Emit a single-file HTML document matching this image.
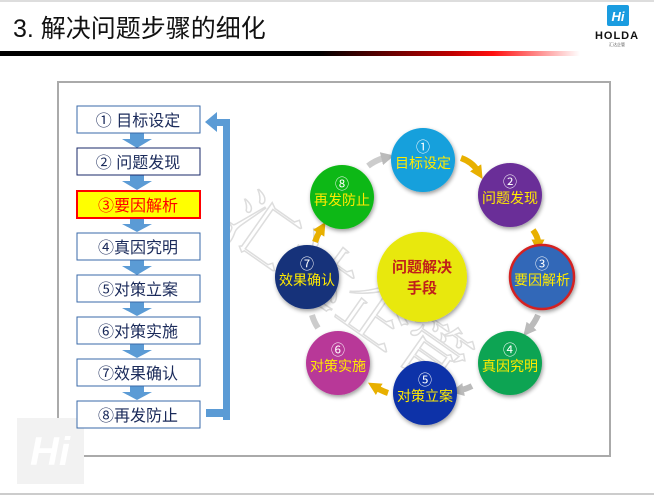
<!DOCTYPE html>
<html><head><meta charset="utf-8"><style>
html,body{margin:0;padding:0;background:#fff;}
body{width:654px;height:495px;position:relative;overflow:hidden;font-family:"Liberation Sans","Noto Sans CJK SC",sans-serif;}
</style></head><body>
<svg width="654" height="495" viewBox="0 0 654 495" xmlns="http://www.w3.org/2000/svg" style="position:absolute;left:0;top:0">
<defs>
<linearGradient id="bar" x1="0" x2="1" y1="0" y2="0">
<stop offset="0" stop-color="#000"/><stop offset="0.55" stop-color="#000"/>
<stop offset="0.78" stop-color="#c00000"/><stop offset="0.85" stop-color="#ff1010"/>
<stop offset="1" stop-color="#ffffff"/>
</linearGradient>
<filter id="sh" x="-20%" y="-20%" width="140%" height="140%"><feGaussianBlur in="SourceAlpha" stdDeviation="2"/><feOffset dx="1" dy="2"/><feComponentTransfer><feFuncA type="linear" slope="0.4"/></feComponentTransfer><feMerge><feMergeNode/><feMergeNode in="SourceGraphic"/></feMerge></filter>
<marker id="ay" viewBox="0 0 10 10" refX="2" refY="5" markerWidth="2.2" markerHeight="2.2" orient="auto"><path d="M0,0 L10,5 L0,10z" fill="#e8b000"/></marker>
<marker id="ag" viewBox="0 0 10 10" refX="2" refY="5" markerWidth="2.2" markerHeight="2.2" orient="auto"><path d="M0,0 L10,5 L0,10z" fill="#bbb"/></marker>
</defs>
<rect x="0" y="0" width="654" height="2" fill="#ddd"/>
<text x="13" y="37" font-size="25" fill="#111">3. 解决问题步骤的细化</text>
<rect x="0" y="51" width="580" height="5" fill="url(#bar)"/>
<!-- logo -->
<rect x="607" y="5" width="22" height="21" rx="2" fill="#1a9ce0"/>
<text x="618" y="21" font-size="13" fill="#fff" font-style="italic" font-weight="bold" text-anchor="middle">Hi</text>
<text x="617" y="39" font-size="11" font-weight="bold" fill="#111" text-anchor="middle" letter-spacing="1">HOLDA</text>
<text x="617" y="46" font-size="4" fill="#555" text-anchor="middle">汇达企管</text>
<!-- frame -->
<rect x="58" y="82" width="552" height="374" fill="#fff" stroke="#aaa" stroke-width="2"/>
<!-- watermark -->
<rect x="17" y="418" width="67" height="66" fill="#f2f2f2"/>
<text x="50" y="465" font-size="40" fill="#fff" font-style="italic" font-weight="bold" text-anchor="middle">Hi</text>
<text x="200" y="270" font-size="70" fill="none" stroke="#ddd" stroke-width="1.5" transform="rotate(35 270 280)" font-family="Liberation Serif, Noto Serif CJK SC, serif">汇达企管</text>
<rect x="0" y="493" width="654" height="2" fill="#ccc"/>
<!-- left boxes arrows -->
<g fill="#5b9bd5">
<path d="M130,133 h14 v6 h8 l-15,9 l-15,-9 h8z"/>
<path d="M130,175 h14 v6 h8 l-15,9 l-15,-9 h8z"/>
<path d="M130,218 h14 v6 h8 l-15,8 l-15,-8 h8z"/>
<path d="M130,260 h14 v6 h8 l-15,9 l-15,-9 h8z"/>
<path d="M130,302 h14 v6 h8 l-15,8 l-15,-8 h8z"/>
<path d="M130,344 h14 v6 h8 l-15,8 l-15,-8 h8z"/>
<path d="M130,386 h14 v6 h8 l-15,8 l-15,-8 h8z"/>
<rect x="223" y="119" width="7" height="301"/>
<rect x="206" y="409" width="24" height="8"/>
<rect x="214" y="119" width="16" height="7"/>
<path d="M205,122 l12,-10 v20z"/>
</g>
<g font-size="16" text-anchor="middle" fill="#1a2a5a">
<rect x="77" y="106" width="123" height="27" fill="#fff" stroke="#3a6aa8"/><text x="138" y="126">① 目标设定</text>
<rect x="77" y="148" width="123" height="27" fill="#fff" stroke="#1a2a6a"/><text x="138" y="168">② 问题发现</text>
<rect x="77" y="191" width="123" height="27" fill="#ffff00" stroke="#f00" stroke-width="2"/><text x="138" y="211" fill="#f00">③要因解析</text>
<rect x="77" y="233" width="123" height="27" fill="#fff" stroke="#3a6aa8"/><text x="138" y="253">④真因究明</text>
<rect x="77" y="275" width="123" height="27" fill="#fff" stroke="#3a6aa8"/><text x="138" y="295">⑤对策立案</text>
<rect x="77" y="317" width="123" height="27" fill="#fff" stroke="#3a6aa8"/><text x="138" y="337">⑥对策实施</text>
<rect x="77" y="359" width="123" height="27" fill="#fff" stroke="#3a6aa8"/><text x="138" y="379">⑦效果确认</text>
<rect x="77" y="401" width="123" height="27" fill="#fff" stroke="#3a6aa8"/><text x="138" y="421">⑧再发防止</text>
</g>
<!-- cycle arrows -->
<g stroke-width="6" fill="none">
<path d="M461,158 Q472,162 477,170" stroke="#e8b000" marker-end="url(#ay)"/>
<path d="M533,230 Q538,237 538,242" stroke="#e8b000" marker-end="url(#ay)"/>
<path d="M538,315 Q535,322 530,328" stroke="#bbb" marker-end="url(#ag)"/>
<path d="M472,386 Q466,389 461,390" stroke="#bbb" marker-end="url(#ag)"/>
<path d="M388,393 Q382,391 377,388" stroke="#e8b000" marker-end="url(#ay)"/>
<path d="M312,315 Q314,322 318,328" stroke="#ccc"/>
<path d="M315,242 Q317,236 320,231" stroke="#e8b000" marker-end="url(#ay)"/>
<path d="M368,166 Q376,160 384,158" stroke="#ccc" marker-end="url(#ag)"/>
</g>
<g filter="url(#sh)">
<circle cx="423" cy="160" r="32" fill="#12a0dc"/>
<circle cx="510" cy="195" r="32" fill="#6a2d98"/>
<circle cx="542" cy="277" r="32" fill="#3367b8" stroke="#d42020" stroke-width="2.5"/>
<circle cx="510" cy="363" r="32" fill="#0aa452"/>
<circle cx="425" cy="393" r="32" fill="#0b30a8"/>
<circle cx="338" cy="363" r="32" fill="#b83898"/>
<circle cx="307" cy="277" r="32" fill="#13307a"/>
<circle cx="342" cy="197" r="32" fill="#0cb812"/>
<circle cx="422" cy="277" r="45" fill="#e8e80a"/>
</g>
<g font-size="14" text-anchor="middle" fill="#ffea00">
<text x="423" y="152" fill="#fff">①</text><text x="423" y="168">目标设定</text>
<text x="510" y="187" fill="#fff">②</text><text x="510" y="203">问题发现</text>
<text x="542" y="269" fill="#fff">③</text><text x="542" y="285">要因解析</text>
<text x="510" y="355" fill="#fff">④</text><text x="510" y="371">真因究明</text>
<text x="425" y="385" fill="#fff">⑤</text><text x="425" y="401">对策立案</text>
<text x="338" y="355" fill="#fff">⑥</text><text x="338" y="371">对策实施</text>
<text x="307" y="269" fill="#fff">⑦</text><text x="307" y="285">效果确认</text>
<text x="342" y="189" fill="#fff">⑧</text><text x="342" y="205">再发防止</text>
<text x="422" y="272" fill="#c0201a" font-weight="bold" font-size="15">问题解决</text>
<text x="422" y="293" fill="#c0201a" font-weight="bold" font-size="15">手段</text>
</g>
</svg>
</body></html>
